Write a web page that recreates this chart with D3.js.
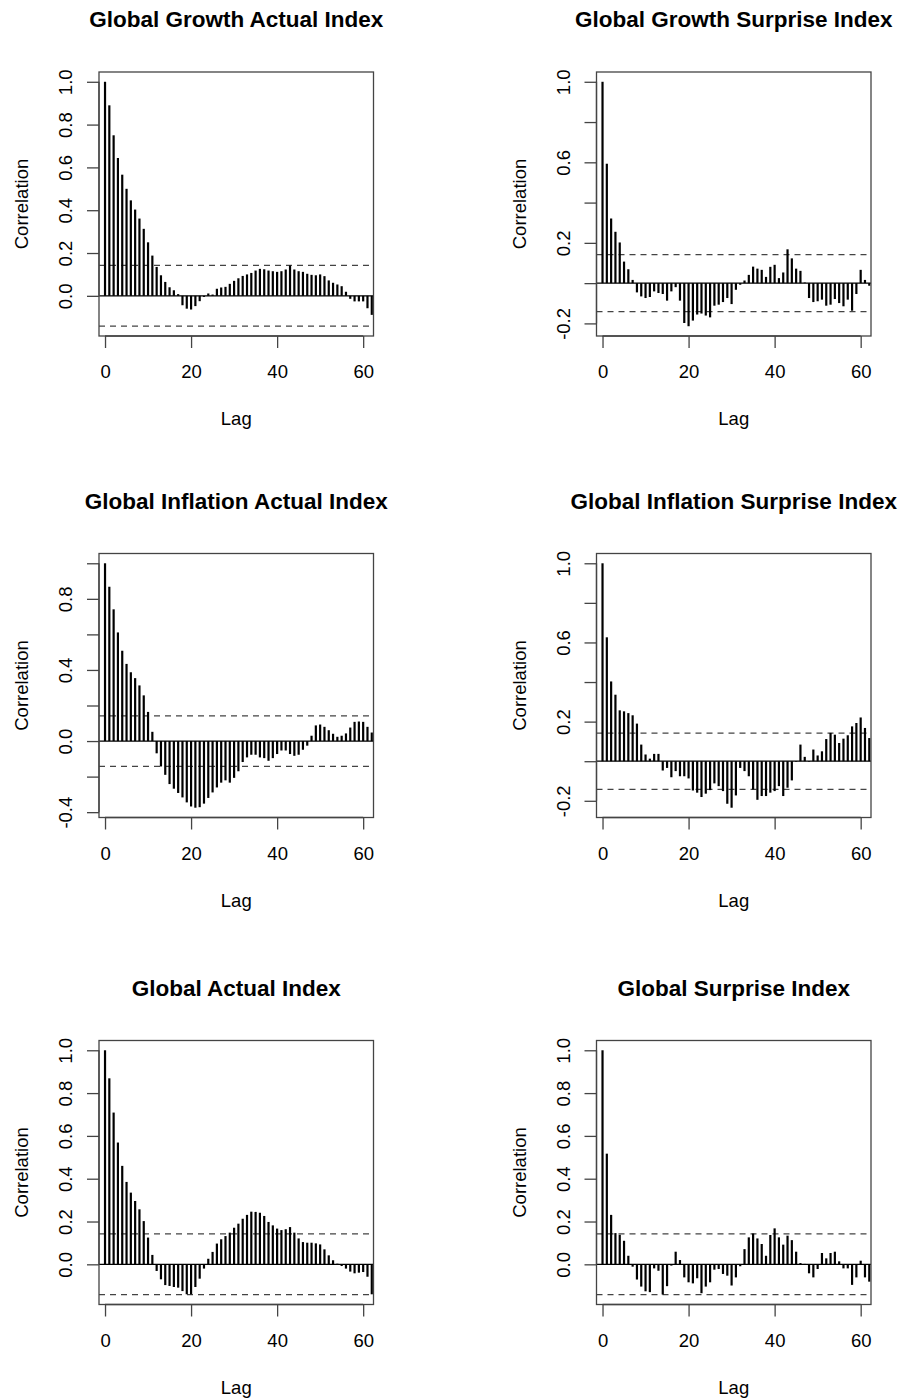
<!DOCTYPE html>
<html>
<head>
<meta charset="utf-8">
<script src="https://cdn.jsdelivr.net/npm/d3@7"></script>
<style>
  body { margin: 0; background: #fff; }
  text { font-family: "Liberation Sans", Arial, Helvetica, sans-serif; fill: #000; }
</style>
</head>
<body>
<div id="chart"></div>
<script>
// ACF values, lags 0..62
var growthActual = [1.0, 0.89, 0.75, 0.644, 0.566, 0.50, 0.446, 0.403, 0.361, 0.313, 0.25, 0.188, 0.135, 0.096, 0.065, 0.04, 0.026, 0.008, -0.044, -0.06, -0.064, -0.048, -0.025, -0.005, 0.011, 0.006, 0.033, 0.039, 0.042, 0.056, 0.07, 0.082, 0.093, 0.10, 0.107, 0.118, 0.126, 0.124, 0.118, 0.115, 0.112, 0.115, 0.123, 0.142, 0.123, 0.115, 0.112, 0.103, 0.098, 0.096, 0.10, 0.092, 0.072, 0.061, 0.053, 0.045, 0.019, -0.014, -0.026, -0.026, -0.026, -0.058, -0.089];
var growthSurprise = [1.0, 0.593, 0.321, 0.255, 0.202, 0.107, 0.069, 0.016, -0.046, -0.066, -0.074, -0.069, -0.041, -0.049, -0.054, -0.087, -0.041, -0.02, -0.087, -0.198, -0.214, -0.186, -0.156, -0.151, -0.161, -0.17, -0.112, -0.107, -0.094, -0.074, -0.104, -0.033, -0.008, 0.013, 0.041, 0.082, 0.072, 0.066, 0.031, 0.081, 0.091, 0.025, 0.053, 0.168, 0.123, 0.072, 0.061, 0.003, -0.074, -0.094, -0.09, -0.082, -0.112, -0.107, -0.079, -0.099, -0.115, -0.082, -0.137, -0.054, 0.066, 0.016, -0.013];
var inflationActual = [1.0, 0.868, 0.741, 0.611, 0.508, 0.434, 0.387, 0.354, 0.313, 0.257, 0.164, 0.052, -0.069, -0.143, -0.19, -0.242, -0.268, -0.292, -0.317, -0.345, -0.368, -0.375, -0.372, -0.352, -0.32, -0.289, -0.261, -0.234, -0.221, -0.234, -0.207, -0.17, -0.118, -0.092, -0.077, -0.077, -0.092, -0.096, -0.111, -0.096, -0.073, -0.053, -0.053, -0.073, -0.083, -0.077, -0.049, -0.026, 0.03, 0.088, 0.093, 0.08, 0.061, 0.041, 0.024, 0.03, 0.043, 0.076, 0.108, 0.11, 0.108, 0.08, 0.048];
var inflationSurprise = [1.0, 0.626, 0.403, 0.336, 0.257, 0.252, 0.243, 0.232, 0.19, 0.084, 0.034, 0.013, 0.037, 0.037, -0.047, -0.034, -0.081, -0.05, -0.076, -0.076, -0.087, -0.148, -0.159, -0.181, -0.164, -0.146, -0.112, -0.126, -0.151, -0.215, -0.235, -0.173, -0.034, -0.05, -0.076, -0.143, -0.195, -0.176, -0.176, -0.159, -0.151, -0.126, -0.176, -0.134, -0.097, -0.003, 0.084, 0.022, -0.003, 0.059, 0.029, 0.05, 0.112, 0.143, 0.134, 0.092, 0.114, 0.131, 0.176, 0.193, 0.221, 0.168, 0.117];
var globalActual = [1.0, 0.869, 0.709, 0.569, 0.46, 0.385, 0.335, 0.296, 0.257, 0.202, 0.125, 0.044, -0.031, -0.07, -0.097, -0.101, -0.106, -0.109, -0.125, -0.14, -0.14, -0.106, -0.067, -0.02, 0.026, 0.058, 0.097, 0.117, 0.132, 0.148, 0.171, 0.19, 0.213, 0.231, 0.246, 0.245, 0.241, 0.226, 0.198, 0.182, 0.167, 0.16, 0.164, 0.174, 0.148, 0.121, 0.104, 0.101, 0.101, 0.098, 0.093, 0.07, 0.042, 0.019, 0.003, -0.008, -0.02, -0.034, -0.042, -0.039, -0.036, -0.058, -0.14];
var globalSurprise = [1.0, 0.517, 0.231, 0.146, 0.138, 0.11, 0.04, -0.011, -0.071, -0.104, -0.126, -0.13, -0.019, -0.03, -0.141, -0.102, -0.006, 0.059, 0.02, -0.061, -0.084, -0.089, -0.065, -0.135, -0.104, -0.084, -0.025, -0.022, -0.045, -0.053, -0.099, -0.061, -0.009, 0.071, 0.126, 0.144, 0.121, 0.095, 0.04, 0.137, 0.168, 0.126, 0.092, 0.134, 0.113, 0.059, 0.006, 0.002, -0.042, -0.061, -0.022, 0.053, 0.028, 0.053, 0.059, 0.014, -0.019, -0.019, -0.096, -0.061, 0.017, -0.061, -0.081];

var titles = ["Global Growth Actual Index", "Global Growth Surprise Index",
              "Global Inflation Actual Index", "Global Inflation Surprise Index",
              "Global Actual Index", "Global Surprise Index"];

// 95% confidence bound drawn as dashed lines
var confLimit = 0.142;

var xTicks = [0, 20, 40, 60];
var yTicksA = [0, 0.2, 0.4, 0.6, 0.8, 1.0];
var yLabelsA = ["0.0", "0.2", "0.4", "0.6", "0.8", "1.0"];
var yTicksB = [-0.2, 0, 0.2, 0.4, 0.6, 0.8, 1.0];
var yLabelsB = ["-0.2", "", "0.2", "", "0.6", "", "1.0"];
var yTicksC = [-0.4, -0.2, 0, 0.2, 0.4, 0.6, 0.8, 1.0];
var yLabelsC = ["-0.4", "", "0.0", "", "0.4", "", "0.8", ""];

var panels = [
  {title: titles[0], acf: growthActual, ticks: yTicksA, labels: yLabelsA},
  {title: titles[1], acf: growthSurprise, ticks: yTicksB, labels: yLabelsB},
  {title: titles[2], acf: inflationActual, ticks: yTicksC, labels: yLabelsC},
  {title: titles[3], acf: inflationSurprise, ticks: yTicksB, labels: yLabelsB},
  {title: titles[4], acf: globalActual, ticks: yTicksA, labels: yLabelsA},
  {title: titles[5], acf: globalSurprise, ticks: yTicksA, labels: yLabelsA}
];

var W = 901, H = 1398;
var colLeft = [99, 596.5];
var rowTop = [72, 553.5, 1040.5];
var boxW = 274.5, boxH = 264;
var gray = "#444";

var svg = d3.select("#chart").append("svg")
    .attr("width", W)
    .attr("height", H)
    .style("background", "#fff");

panels.forEach(function(p, i) {
    var left = colLeft[i % 2];
    var top = rowTop[Math.floor(i / 2)];

    var g = svg.append("g").attr("transform", "translate(" + left + "," + top + ")");

    // x range padded like R's plot (lag 0 sits ~6px inside the box)
    var x = d3.scaleLinear().domain([-1.4, 62.4]).range([0, boxW]);

    // R style y limits: range of acf and the bounds, padded 4%
    var lo = Math.min(d3.min(p.acf), -confLimit);
    var hi = Math.max(d3.max(p.acf), confLimit);
    var pad = (hi - lo) * 0.04;
    var y = d3.scaleLinear().domain([lo - pad, hi + pad]).range([boxH, 0]);

    // title
    g.append("text")
        .attr("x", boxW / 2)
        .attr("y", -45)
        .attr("text-anchor", "middle")
        .style("font-size", "22.5px")
        .style("font-weight", "bold")
        .text(p.title);

    // zero line
    g.append("line")
        .attr("x1", 0).attr("x2", boxW)
        .attr("y1", y(0)).attr("y2", y(0))
        .attr("stroke", "#000")
        .attr("stroke-width", 1.3);

    // dashed confidence bounds
    [confLimit, -confLimit].forEach(function(c) {
        g.append("line")
            .attr("x1", 0).attr("x2", boxW)
            .attr("y1", y(c)).attr("y2", y(c))
            .attr("stroke", gray)
            .attr("stroke-width", 1.3)
            .attr("stroke-dasharray", "6,5");
    });

    // acf spikes
    g.selectAll(".spike")
        .data(p.acf)
        .enter()
        .append("line")
        .attr("class", "spike")
        .attr("x1", function(d, k) { return x(k); })
        .attr("x2", function(d, k) { return x(k); })
        .attr("y1", y(0))
        .attr("y2", function(d) { return y(d); })
        .attr("stroke", "#000")
        .attr("stroke-width", 2.2);

    // box
    g.append("rect")
        .attr("width", boxW)
        .attr("height", boxH)
        .attr("fill", "none")
        .attr("stroke", gray)
        .attr("stroke-width", 1.3);

    // x axis
    var xa = g.append("g")
        .attr("transform", "translate(0," + boxH + ")")
        .call(d3.axisBottom(x).tickValues(xTicks).tickSize(12).tickFormat(d3.format("d")));
    xa.select(".domain").remove();
    xa.append("line")
        .attr("x1", x(xTicks[0])).attr("x2", x(xTicks[xTicks.length - 1]))
        .attr("stroke", gray).attr("stroke-width", 1.3);
    xa.selectAll(".tick line").attr("stroke", gray).attr("stroke-width", 1.3);
    xa.selectAll(".tick text")
        .attr("y", 42).attr("dy", null)
        .style("font-size", "18.5px")
        .style("font-family", "'Liberation Sans', Arial, Helvetica, sans-serif")
        .attr("fill", "#000");

    // y axis
    var ya = g.append("g")
        .call(d3.axisLeft(y).tickValues(p.ticks).tickSize(12)
            .tickFormat(function(d, k) { return p.labels[k]; }));
    ya.select(".domain").remove();
    ya.append("line")
        .attr("y1", y(p.ticks[0])).attr("y2", y(p.ticks[p.ticks.length - 1]))
        .attr("stroke", gray).attr("stroke-width", 1.3);
    ya.selectAll(".tick line").attr("stroke", gray).attr("stroke-width", 1.3);
    ya.selectAll(".tick text")
        .attr("x", null).attr("dy", null)
        .attr("transform", "translate(-27,0) rotate(-90)")
        .attr("text-anchor", "middle")
        .style("font-size", "18.5px")
        .style("font-family", "'Liberation Sans', Arial, Helvetica, sans-serif")
        .attr("fill", "#000");

    // axis titles
    g.append("text")
        .attr("x", boxW / 2)
        .attr("y", boxH + 89)
        .attr("text-anchor", "middle")
        .style("font-size", "18.5px")
        .text("Lag");

    g.append("text")
        .attr("transform", "translate(-71," + (boxH / 2) + ") rotate(-90)")
        .attr("text-anchor", "middle")
        .style("font-size", "18.5px")
        .text("Correlation");
});
</script>
</body>
</html>
